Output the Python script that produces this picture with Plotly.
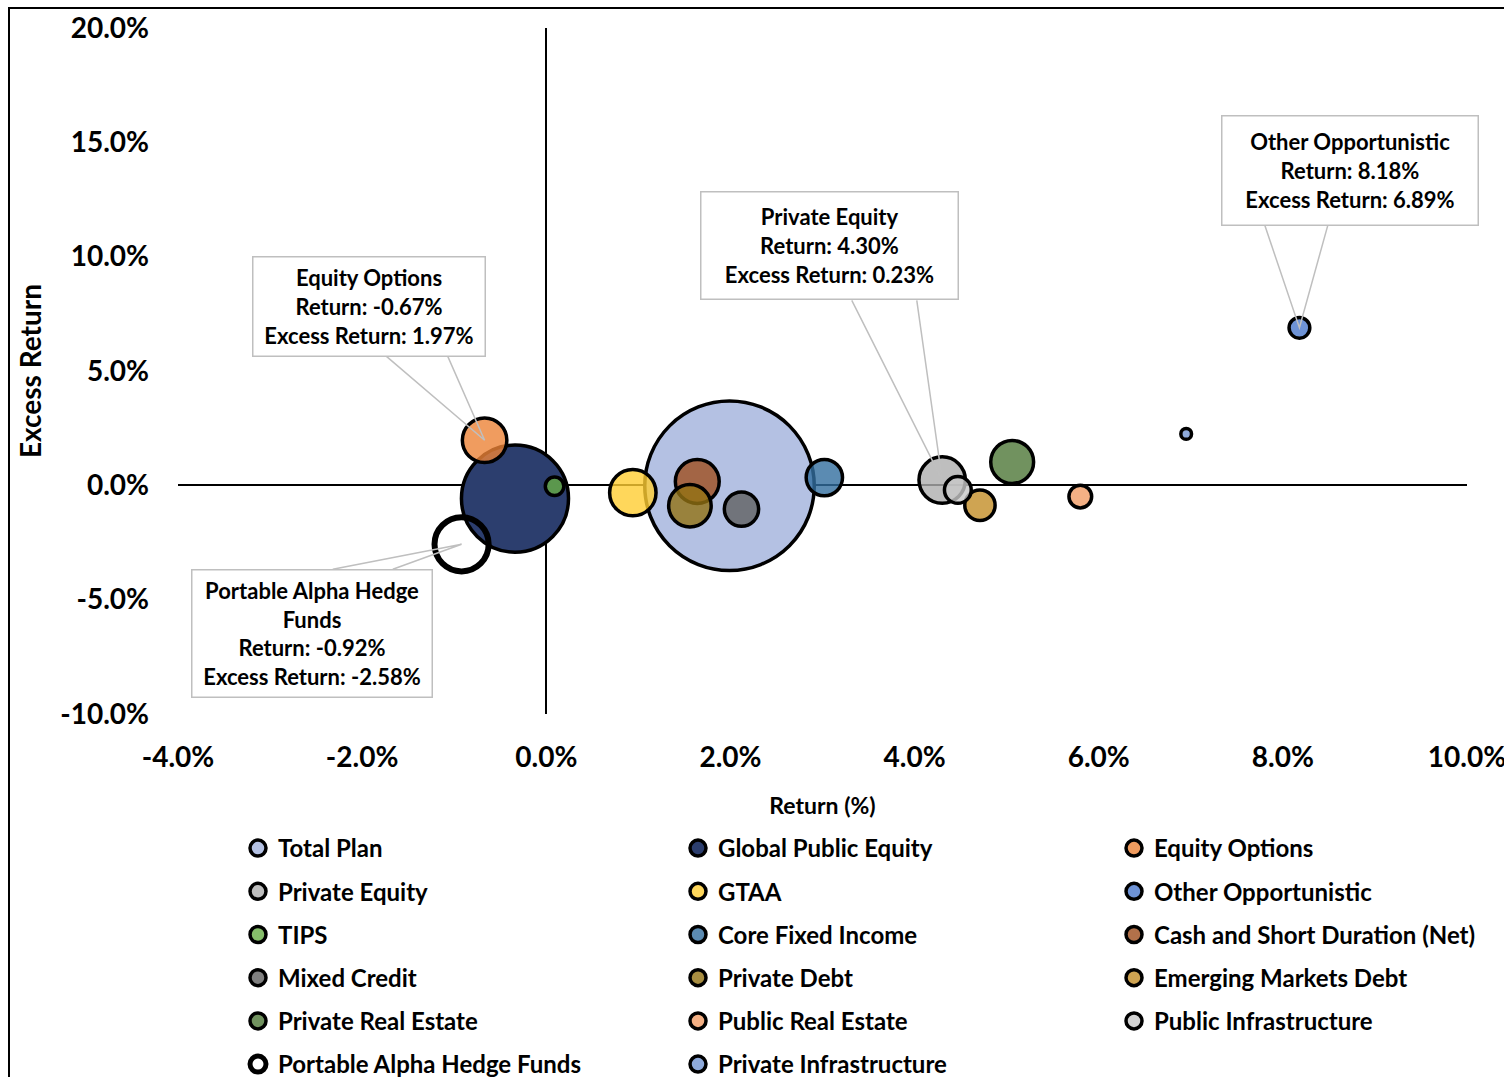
import textwrap
import plotly.graph_objects as go

# ---------------- data ----------------
categories = ["Total Plan", "Global Public Equity", "Equity Options",
              "Private Equity", "GTAA", "Other Opportunistic",
              "TIPS", "Core Fixed Income", "Cash and Short Duration (Net)",
              "Mixed Credit", "Private Debt", "Emerging Markets Debt",
              "Private Real Estate", "Public Real Estate", "Public Infrastructure",
              "Portable Alpha Hedge Funds", "Private Infrastructure"]
returns_pct = [1.99, -0.34, -0.67,
               4.30, 0.94, 8.18,
               0.09, 3.02, 1.64,
               2.12, 1.56, 4.71,
               5.06, 5.80, 4.47,
               -0.92, 6.95]
excess_return_pct = [-0.02, -0.58, 1.97,
                     0.23, -0.32, 6.89,
                     -0.04, 0.34, 0.17,
                     -1.04, -0.89, -0.87,
                     1.02, -0.49, -0.20,
                     -2.58, 2.25]
weight_bps = [10000, 3990, 690,
              750, 750, 150,
              120, 460, 670,
              410, 630, 320,
              640, 180, 250,
              1020, 40]
labelled_series = ["Equity Options", "Private Equity", "Other Opportunistic",
                   "Portable Alpha Hedge Funds"]
x_tick_values = [-4, -2, 0, 2, 4, 6, 8, 10]
x_tick_labels = ["-4.0%", "-2.0%", "0.0%", "2.0%", "4.0%", "6.0%", "8.0%", "10.0%"]
y_tick_values = [-10, -5, 0, 5, 10, 15, 20]
y_tick_labels = ["-10.0%", "-5.0%", "0.0%", "5.0%", "10.0%", "15.0%", "20.0%"]

# ---------------- styles ----------------
apparent_colors = {
    "Total Plan": "#B4C1E3", "Global Public Equity": "#2C3E6E", "Equity Options": "#F09C5F",
    "Private Equity": "#BEBEBE", "GTAA": "#FFD75B", "Other Opportunistic": "#6E93D6",
    "TIPS": "#86BE6A", "Core Fixed Income": "#5B8BB2", "Cash and Short Duration (Net)": "#B2714A",
    "Mixed Credit": "#808080", "Private Debt": "#A88E42", "Emerging Markets Debt": "#CFA452",
    "Private Real Estate": "#71925F", "Public Real Estate": "#F4B084",
    "Public Infrastructure": "#D3D3D3", "Portable Alpha Hedge Funds": "#FFFFFF",
    "Private Infrastructure": "#8EAADB",
}
opaque = {"Total Plan", "Global Public Equity"}
ALPHA = 0.8


def fill_color(name):
    if name == "Portable Alpha Hedge Funds":
        return "rgba(255,255,255,0)"
    h = apparent_colors[name].lstrip("#")
    rgb = [int(h[i:i + 2], 16) for i in (0, 2, 4)]
    if name in opaque:
        return "rgb(%d,%d,%d)" % tuple(rgb)
    c = [max(0, min(255, round((v - (1 - ALPHA) * 255) / ALPHA))) for v in rgb]
    return "rgba(%d,%d,%d,%.2f)" % (c[0], c[1], c[2], ALPHA)


FONT = "Lato"
# plotly area mode: diameter = sqrt(2 * size / sizeref)
SIZEREF = 2 * 10000 / 169.5 ** 2

# plot area in px: left 178, right 1467, top 28, bottom 714
W, H = 1504, 1077
ML, MR, MT, MB = 178, 37, 28, 363

fig = go.Figure()
legend_ids = ["legend", "legend2", "legend3"]
for i, name in enumerate(categories):
    fig.add_trace(go.Scatter(
        x=[returns_pct[i]], y=[excess_return_pct[i]],
        mode="markers", name=name,
        legend=legend_ids[i % 3], legendgroup=name,
        marker=dict(size=[weight_bps[i]], sizemode="area", sizeref=SIZEREF,
                    opacity=1, color=fill_color(name),
                    line=dict(color="black",
                              width=6 if name == "Portable Alpha Hedge Funds" else 3.5)),
        hovertemplate=name + "<br>Return: %{x:.2f}%<br>Excess Return: %{y:.2f}%<extra></extra>",
    ))

# ---------------- callouts ----------------
# box centre (data coords), box size (px), wedge base x-values (data) and base y (data)
callout_layout = {
    "Equity Options": dict(cx=-1.922, cy=7.827, w=233, h=100, bx=(-1.736, -1.070), by=5.64),
    "Private Equity": dict(cx=3.079, cy=10.494, w=258, h=108, bx=(3.318, 4.024), by=8.09),
    "Other Opportunistic": dict(cx=8.732, cy=13.773, w=257, h=110, bx=(7.804, 8.488), by=11.37),
    "Portable Alpha Hedge Funds": dict(cx=-2.542, cy=-6.471, w=241, h=128, bx=(-2.319, -1.667), by=-3.67),
}
annotations = []
shapes = []
for name in labelled_series:
    i = categories.index(name)
    cl = callout_layout[name]
    text = "<br>".join(textwrap.wrap(name, 20)) + \
        "<br>Return: %.2f%%<br>Excess Return: %.2f%%" % (returns_pct[i], excess_return_pct[i])
    annotations.append(dict(
        x=cl["cx"], y=cl["cy"], xref="x", yref="y", text=text, showarrow=False,
        width=cl["w"] - 2, height=cl["h"] - 2, align="center", valign="middle",
        bgcolor="white", bordercolor="#BFBFBF", borderwidth=1.5, borderpad=0,
        font=dict(family=FONT, size=22, color="black", weight=700),
    ))
    tx, ty = returns_pct[i], excess_return_pct[i]
    shapes.append(dict(
        type="path", xref="x", yref="y", layer="above",
        path="M %f %f L %f %f L %f %f" % (cl["bx"][0], cl["by"], tx, ty, cl["bx"][1], cl["by"]),
        line=dict(color="#BFBFBF", width=1.5),
    ))

# chart border
pw = W - ML - MR
ph = H - MT - MB
shapes.append(dict(type="rect", xref="paper", yref="paper", layer="above",
                   x0=(9 - ML) / pw, x1=(W + 20 - ML) / pw,
                   y0=(H - MB - (H + 20)) / ph, y1=(H - MB - 8) / ph,
                   line=dict(color="black", width=2), fillcolor="rgba(0,0,0,0)"))

legend_common = dict(orientation="v", traceorder="grouped", tracegroupgap=9,
                     bgcolor="rgba(0,0,0,0)", itemsizing="trace",
                     font=dict(family=FONT, size=24, color="black", weight=700),
                     yanchor="top", xanchor="left", y=(H - MB - 826) / ph)

fig.update_layout(
    width=W, height=H,
    margin=dict(l=ML, r=MR, t=MT, b=MB, autoexpand=False),
    paper_bgcolor="white", plot_bgcolor="white",
    font=dict(family=FONT, color="black", weight=700),
    showlegend=True,
    legend=dict(legend_common, x=(238 - ML) / pw),
    legend2=dict(legend_common, x=(678 - ML) / pw),
    legend3=dict(legend_common, x=(1114 - ML) / pw),
    xaxis=dict(range=[-4, 10], tickvals=x_tick_values, ticktext=x_tick_labels,
               showgrid=False, showline=False, zeroline=True, zerolinecolor="black",
               zerolinewidth=1.5, ticks="", ticklabelstandoff=24, ticklabeloverflow="allow",
               tickfont=dict(family=FONT, size=28, color="black", weight=700),
               title=dict(text="Return (%)", standoff=25,
                          font=dict(family=FONT, size=23, color="black", weight=700))),
    yaxis=dict(range=[-10, 20], tickvals=y_tick_values, ticktext=y_tick_labels,
               showgrid=False, showline=False, zeroline=True, zerolinecolor="black",
               zerolinewidth=1.5, ticks="", ticklabelstandoff=28,
               tickfont=dict(family=FONT, size=28, color="black", weight=700),
               title=dict(text="Excess Return", standoff=10,
                          font=dict(family=FONT, size=28, color="black", weight=700))),
    annotations=annotations,
    shapes=shapes,
)

fig.write_html("out.html")
